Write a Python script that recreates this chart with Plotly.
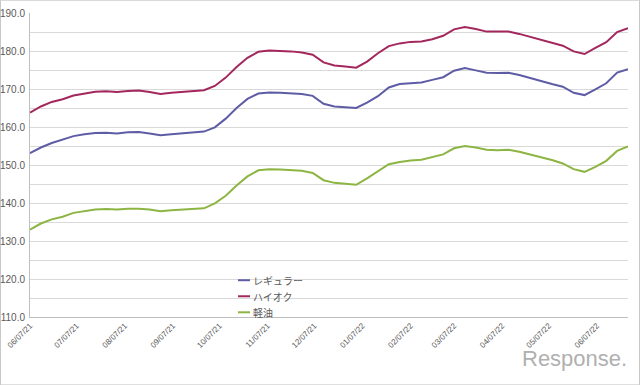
import pandas as pd
import plotly.graph_objects as go

# ---- data ----
dates = pd.date_range("2021-06-07", periods=56, freq="7D")

regular = [153.1, 154.6, 155.8, 156.6, 157.6, 158.1, 158.4, 158.5, 158.3, 158.6,
           158.7, 158.3, 157.8, 158.1, 158.3, 158.5, 158.8, 159.9, 162.2, 165.0,
           167.4, 168.8, 169.1, 169.0, 168.9, 168.7, 168.2, 166.1, 165.4, 165.2,
           165.0, 166.4, 168.1, 170.4, 171.3, 171.5, 171.7, 172.4, 173.1, 174.8,
           175.5, 174.9, 174.3, 174.2, 174.3, 173.7, 173.0, 172.1, 171.3, 170.6,
           169.0, 168.4, 169.9, 171.5, 174.3, 175.2]
highoctane = [163.8, 165.4, 166.6, 167.3, 168.3, 168.9, 169.3, 169.4, 169.2, 169.5,
              169.6, 169.2, 168.7, 169.0, 169.2, 169.4, 169.7, 170.8, 173.0, 175.8,
              178.2, 179.8, 180.1, 180.0, 179.9, 179.6, 179.0, 177.0, 176.2, 175.9,
              175.6, 177.2, 179.4, 181.3, 182.0, 182.4, 182.5, 183.1, 184.0, 185.7,
              186.3, 185.8, 185.1, 185.1, 185.1, 184.5, 183.7, 183.0, 182.1, 181.4,
              179.9, 179.2, 180.8, 182.3, 185.0, 186.0]
diesel = [133.0, 134.6, 135.7, 136.4, 137.4, 137.9, 138.3, 138.4, 138.3, 138.5,
          138.5, 138.3, 137.8, 138.1, 138.3, 138.4, 138.6, 139.9, 141.9, 144.6,
          147.0, 148.6, 148.9, 148.8, 148.6, 148.5, 147.9, 146.0, 145.3, 145.0,
          144.8, 146.5, 148.3, 150.2, 150.8, 151.2, 151.4, 152.1, 152.8, 154.4,
          155.0, 154.6, 154.0, 153.9, 154.0, 153.5, 152.8, 152.0, 151.3, 150.4,
          148.9, 148.2, 149.5, 151.1, 153.7, 154.9]

series_names = ["レギュラー", "ハイオク", "軽油"]
series_values = [regular, highoctane, diesel]
series_colors = ["#5f5ca6", "#a3275c", "#8db543"]

tick_dates = ["2021-06-07", "2021-07-07", "2021-08-07", "2021-09-07", "2021-10-07",
              "2021-11-07", "2021-12-07", "2022-01-07", "2022-02-07", "2022-03-07",
              "2022-04-07", "2022-05-07", "2022-06-07"]
tick_labels = ["06/07/21", "07/07/21", "08/07/21", "09/07/21", "10/07/21", "11/07/21",
               "12/07/21", "01/07/22", "02/07/22", "03/07/22", "04/07/22", "05/07/22",
               "06/07/22"]

# ---- geometry helpers (pixels -> paper) ----
W, H = 640, 385
L, R, T, B = 30, 12, 13.3, 68.3
pw, ph = W - L - R, H - T - B


def px(x):
    return (x - L) / pw


def py(y):
    return (H - B - y) / ph


fig = go.Figure()
for name, vals, col in zip(series_names, series_values, series_colors):
    fig.add_trace(go.Scatter(x=dates, y=vals, mode="lines", name=name,
                             line=dict(color=col, width=2), showlegend=False))

shapes = [dict(type="rect", xref="paper", yref="paper",
               x0=px(0.5), x1=px(639.5), y0=py(384.5), y1=py(0.5),
               line=dict(color="#c8c8c8", width=1), layer="below")]
annotations = []
for k, (name, col) in enumerate(zip(series_names, series_colors)):
    yy = 280 + 16 * k
    shapes.append(dict(type="line", xref="paper", yref="paper",
                       x0=px(238), x1=px(250), y0=py(yy), y1=py(yy),
                       line=dict(color=col, width=2)))
    annotations.append(dict(xref="paper", yref="paper", x=px(251), y=py(yy),
                            xanchor="left", yanchor="middle", showarrow=False,
                            text=name, font=dict(size=10, color="#595959",
                                                 family="Noto Sans CJK JP")))

annotations.append(dict(xref="paper", yref="paper", x=px(629), y=py(358),
                        xanchor="right", yanchor="middle", showarrow=False,
                        text="Response.", font=dict(size=22, color="#b0b0b0",
                                                    family="Liberation Sans")))

fig.update_layout(
    width=W, height=H,
    margin=dict(l=L, r=R, t=T, b=B, autoexpand=False),
    paper_bgcolor="white", plot_bgcolor="white",
    font=dict(family="Liberation Sans, Noto Sans CJK JP", color="#595959"),
    shapes=shapes, annotations=annotations,
    xaxis=dict(type="date", range=[dates[0], dates[-1]],
               tickvals=tick_dates, ticktext=tick_labels,
               tickangle=-45, tickfont=dict(size=8, color="#595959"),
               showgrid=False, showline=True, linecolor="#bfbfbf", linewidth=1,
               ticks="", zeroline=False, automargin=False),
    yaxis=dict(range=[110, 190], dtick=10, tickformat=".1f",
               tickfont=dict(size=10, color="#595959"),
               showgrid=True, gridcolor="#d9d9d9", gridwidth=1,
               minor=dict(dtick=5, showgrid=True, gridcolor="#d9d9d9"),
               showline=True, linecolor="#bfbfbf", linewidth=1,
               ticks="", zeroline=False, ticklabelstandoff=2, automargin=False),
)

fig.write_html("out.html", config={"displayModeBar": False})

# remove the default page margin so the figure sits at the window's top-left
with open("out.html", "r", encoding="utf-8") as f:
    html = f.read()
html = html.replace("<head>", "<head><style>html,body{margin:0;padding:0;overflow:hidden}</style>", 1)
with open("out.html", "w", encoding="utf-8") as f:
    f.write(html)
